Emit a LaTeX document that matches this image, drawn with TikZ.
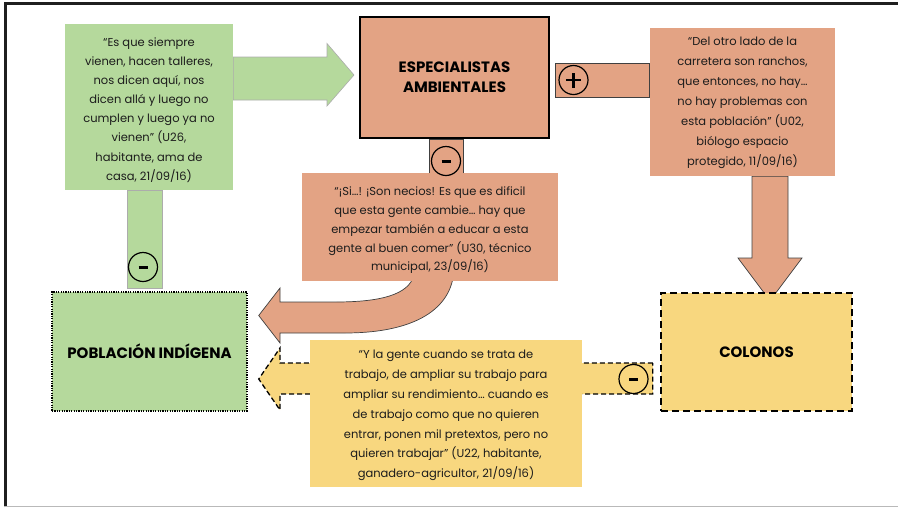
\documentclass[tikz,border=0pt]{standalone}
\usepackage{fontspec}
\setmainfont{Poppins}
\definecolor{verde}{HTML}{B5D99C}
\definecolor{salmon}{HTML}{E3A384}
\definecolor{amarillo}{HTML}{F8D77F}
\definecolor{texto}{HTML}{1C1C1C}
\definecolor{borde}{HTML}{404040}
\pgfdeclarelayer{bg}
\pgfsetlayers{bg,main}
\tikzset{
  caja/.style={inner sep=0pt},
  cita/.style={align=center, inner sep=0pt, text=texto},
  actor/.style={align=center, inner sep=0pt, text=black, font=\bfseries\fontsize{15}{20}\selectfont},
  signo/.style={circle, draw=black, line width=1.2pt, minimum size=29pt, inner sep=0pt},
  menos/.style={signo, path picture={\draw[line width=3pt] ([xshift=-4.5pt]path picture bounding box.center) -- ([xshift=4.5pt]path picture bounding box.center);}},
  mas/.style={signo, path picture={\draw[line width=2.2pt] ([xshift=-7.5pt]path picture bounding box.center) -- ([xshift=7.5pt]path picture bounding box.center); \draw[line width=2.2pt] ([yshift=-7.5pt]path picture bounding box.center) -- ([yshift=7.5pt]path picture bounding box.center);}},
  flechaS/.style={fill=salmon, draw=borde, line width=0.7pt, line join=miter},
  flechaV/.style={fill=verde, draw=gray!65, line width=0.6pt},
}
\begin{document}
\begin{tikzpicture}[x=1pt,y=-1pt]
\useasboundingbox (0,0) rectangle (898,507);
% frame
\draw[line width=2.5pt, black!88] (5.3,507) -- (5.3,3.7) -- (898,3.7);
\draw[line width=1pt, gray!55] (4,506) -- (898,506);

% quote boxes (fill) and their texts
\node[caja, fill=verde, minimum width=168pt, minimum height=166pt] (qG) at (149,107) {};
\node[cita, font=\fontsize{11.5}{19.1}\selectfont] (qGt) at (149,110)
  {“Es que siempre\\vienen, hacen talleres,\\nos dicen aquí, nos\\dicen allá  y luego no\\cumplen y luego ya no\\vienen”  (U26,\\habitante, ama de\\casa, 21/09/16)};
\node[caja, fill=salmon, minimum width=185pt, minimum height=148pt] (qR) at (742.5,102) {};
\node[cita, font=\fontsize{11.5}{20}\selectfont] (qRt) at (742.5,103)
  {“Del otro lado de la\\carretera son ranchos,\\que entonces, no hay…\\no hay problemas con\\esta población”  (U02,\\biólogo espacio\\protegido, 11/09/16)};
\node[caja, fill=salmon, minimum width=256pt, minimum height=108pt] (qM) at (430,227) {};
\node[cita, font=\fontsize{11.5}{18.75}\selectfont] (qMt) at (430,230.5)
  {“¡Si…! ¡Son necios! Es que es dificil\\que esta gente cambie…  hay que\\empezar también a educar a esta\\gente al buen comer” (U30, técnico\\municipal,  23/09/16)};
\node[caja, fill=amarillo, minimum width=272pt, minimum height=147pt] (qY) at (446,413.5) {};
\node[cita, font=\fontsize{11.5}{19.8}\selectfont] (qYt) at (446,415.5)
  {“Y la gente cuando se trata de\\trabajo, de ampliar  su trabajo para\\ampliar su rendimiento… cuando es\\de trabajo como que no quieren\\entrar, ponen mil pretextos, pero no\\quieren trabajar” (U22, habitante,\\ganadero-agricultor, 21/09/16)};

% actor boxes
\node[actor, fill=salmon, draw=black, line width=2pt, minimum width=189pt, minimum height=121pt] (esp) at (454.5,77.5)
  {ESPECIALISTAS\\AMBIENTALES};
\node[actor, fill=verde, draw=black, line width=1.4pt, dash pattern=on 1.2pt off 1.2pt, minimum width=195pt, minimum height=119pt] (pob) at (149.5,351.5)
  {POBLACIÓN INDÍGENA};
\node[actor, fill=amarillo, draw=black, line width=2.5pt, dash pattern=on 7pt off 4pt, minimum width=191pt, minimum height=118pt] (col) at (756.5,352)
  {COLONOS};

% sign circles
\node[menos] (mG) at (143,267) {};
\node[menos] (mE) at (446,161) {};
\node[mas] (pE) at (573.5,80) {};
\node[menos] (mC) at (633.5,379) {};

\begin{pgfonlayer}{bg}
% green arrow quote -> especialistas
\draw[flechaV] (qG.east |- 0,57) -- (327,57) -- (327,43.5) -- ([xshift=-5pt]esp.west |- 0,75) -- (327,106) -- (327,100) -- (qG.east |- 0,100) -- cycle;
% green stem quote -> poblacion
\draw[flechaV] (qG.south -| 127,0) rectangle (162,288);
% plus connector especialistas -> right quote
\draw[flechaS] (555,63) rectangle (qR.west |- 0,97);
% minus stem especialistas -> middle quote
\draw[flechaS] (esp.south -| 429,0) rectangle (463,176);
% down arrow right quote -> colonos
\draw[flechaS] (qR.south -| 752,0) -- (752,258) -- (738,258) -- ([yshift=-9pt]col.north -| 770,0) -- (802,258) -- (788,258) -- (qR.south -| 788,0) -- cycle;
% curved arrow middle quote -> poblacion
\draw[flechaS] (413,278) .. controls (405,298) and (370,302) .. (335,302) -- (280,302) -- (280,288) -- ([xshift=11pt]pob.east |- 0,315.5) -- (280,343) -- (280,333) -- (345,333) .. controls (405,333) and (446,315) .. (453,278) -- cycle;
% yellow dashed arrow colonos -> poblacion
\draw[fill=amarillo, draw=black, line width=1.3pt, dash pattern=on 5pt off 3pt] ([xshift=-7pt]col.west |- 0,363) -- (280,363) -- (280,348) -- ([xshift=11pt]pob.east |- 0,379) -- (280,410) -- (280,394) -- ([xshift=-7pt]col.west |- 0,394) -- cycle;
\end{pgfonlayer}
\end{tikzpicture}
\end{document}
